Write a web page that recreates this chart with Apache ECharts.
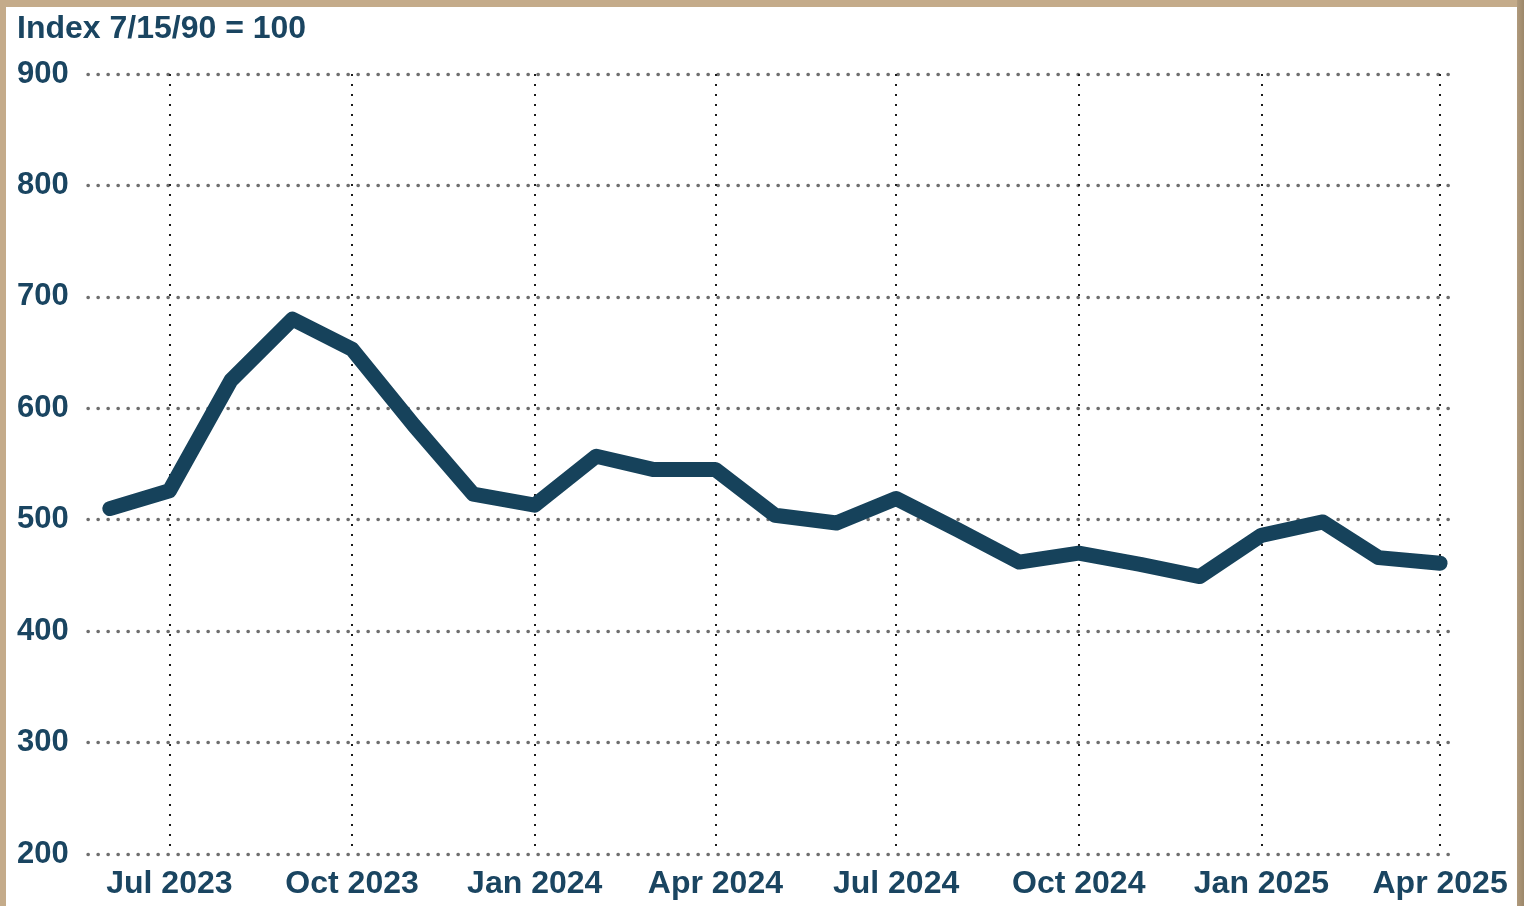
<!DOCTYPE html>
<html>
<head>
<meta charset="utf-8">
<script src="https://cdn.jsdelivr.net/npm/echarts@6/dist/echarts.min.js"></script>
<style>
  html, body { margin: 0; padding: 0; }
  body {
    width: 1524px;
    height: 906px;
    background: #c4ab8a;
    overflow: hidden;
    position: relative;
  }
  /* tan frame: left & top light, right edge darker */
  #rightEdge {
    position: absolute; left: 1517px; top: 0; width: 7px; height: 906px;
    background: linear-gradient(to right, #b09a7c, #9c876a);
  }
  #main {
    position: absolute; left: 6px; top: 7px;
    width: 1511px; height: 899px;
    background: #fff;
  }
</style>
</head>
<body>
<div id="rightEdge"></div>
<div id="main"></div>
<script>
// monthly index values, Jun 2023 .. Apr 2025
const months = [
  '2023-06-01', '2023-07-01', '2023-08-01', '2023-09-01', '2023-10-01', '2023-11-01', '2023-12-01',
  '2024-01-01', '2024-02-01', '2024-03-01', '2024-04-01', '2024-05-01', '2024-06-01',
  '2024-07-01', '2024-08-01', '2024-09-01', '2024-10-01', '2024-11-01', '2024-12-01',
  '2025-01-01', '2025-02-01', '2025-03-01', '2025-04-01'
];
const indexValues = [
  510, 526, 625, 680, 653, 585, 523,
  513, 557, 545, 545, 504, 497,
  519, 491, 462, 470, 460, 449,
  486, 498, 466, 461
];
const tickDates = [
  '2023-07-01', '2023-10-01', '2024-01-01', '2024-04-01',
  '2024-07-01', '2024-10-01', '2025-01-01', '2025-04-01'
];
const tickLabels = [
  'Jul 2023', 'Oct 2023', 'Jan 2024', 'Apr 2024',
  'Jul 2024', 'Oct 2024', 'Jan 2025', 'Apr 2025'
];
const yTicks = [200, 300, 400, 500, 600, 700, 800, 900];

const navy = '#16425b';
const textColor = '#1a4561';
const font = '"Liberation Sans", Arial, sans-serif';
const DAY = 86400000;

// x position = days since the first month (keeps real month lengths)
const base = Date.UTC(2023, 5, 1);
const dayOf = s => Math.round((Date.parse(s + 'T00:00:00Z') - base) / DAY);
const tickDays = tickDates.map(dayOf);
const lastDay = dayOf(months[months.length - 1]);

const chart = echarts.init(document.getElementById('main'));

const option = {
  animation: false,
  backgroundColor: '#fff',
  title: {
    text: 'Index 7/15/90 = 100',
    left: 11,
    top: 6,
    padding: 0,
    textStyle: { color: textColor, fontSize: 32, fontWeight: 'bold', fontFamily: font }
  },
  grid: { left: 82, right: 66, top: 67, bottom: 52, containLabel: false },
  xAxis: {
    type: 'value',
    min: -11,
    max: lastDay + 5.5,
    axisLine: { show: false },
    axisTick: { show: false, customValues: tickDays },
    axisLabel: {
      customValues: tickDays,
      margin: 14,
      color: textColor,
      fontSize: 32,
      fontWeight: 'bold',
      fontFamily: font,
      hideOverlap: false,
      formatter: function (val) {
        const i = tickDays.indexOf(Math.round(val));
        return i >= 0 ? tickLabels[i] : '';
      }
    },
    splitLine: {
      show: true,
      lineStyle: { color: '#1c1c1c', width: 2, type: [2, 8] }
    }
  },
  yAxis: {
    type: 'value',
    min: yTicks[0],
    max: yTicks[yTicks.length - 1],
    interval: 100,
    axisLine: { show: false },
    axisTick: { show: false },
    axisLabel: {
      align: 'left',
      margin: 71,
      color: textColor,
      fontSize: 31,
      fontWeight: 'bold',
      fontFamily: font
    },
    splitLine: {
      show: true,
      lineStyle: { color: '#6e6e6e', width: 3.4, type: [0.3, 9.7], cap: 'round' }
    }
  },
  series: [
    {
      name: 'Index',
      type: 'line',
      data: months.map((m, i) => [dayOf(m), indexValues[i]]),
      showSymbol: false,
      symbol: 'none',
      lineStyle: { color: navy, width: 15, cap: 'round', join: 'round' },
      z: 5
    }
  ]
};

chart.setOption(option);
</script>
</body>
</html>
